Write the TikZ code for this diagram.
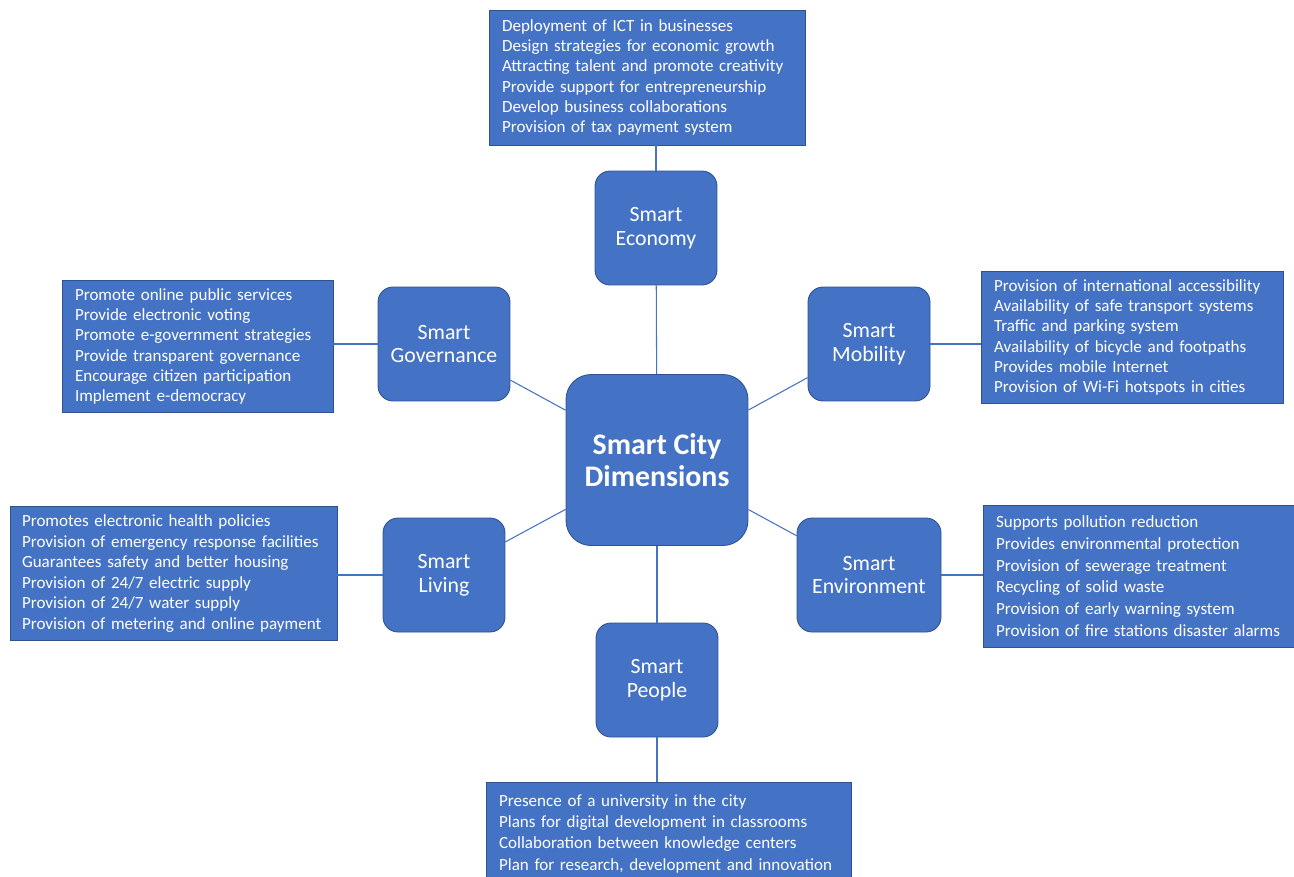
\documentclass[tikz,border=0pt]{standalone}
\usepackage{fontspec}
\setmainfont{Carlito}
\definecolor{cityblue}{HTML}{4472C4}
\definecolor{cityedge}{HTML}{2F528F}

\begin{document}
\begin{tikzpicture}[x=0.02cm, y=-0.02cm,
    dim/.style = {draw=cityedge, fill=cityblue, text=white, line width=0.5pt, rounded corners=0.3cm,
        minimum width=2.44cm, minimum height=2.28cm, align=center, font=\fontsize{12.4}{13.6}\selectfont},
    hub/.style = {dim, rounded corners=0.5cm, minimum width=3.64cm, minimum height=3.42cm,
        font=\fontsize{17}{18.2}\selectfont\bfseries},
    items/.style = {draw=cityedge, fill=cityblue, text=white, line width=0.5pt, align=left,
        inner xsep=0.26cm, inner ysep=0.16cm, font=\fontsize{9.7}{11.5}\selectfont},
    link/.style = {draw=cityblue, line width=0.6pt}]
    \path[use as bounding box] (0,0) rectangle (1294,876);

    \node[hub] (city) at (657,460) {Smart City\\Dimensions};
    \node[dim] (econ) at (656,228) {Smart\\Economy};
    \node[dim, minimum width=2.64cm] (gov) at (444,344) {Smart\\Governance};
    \node[dim] (mob) at (869,344) {Smart\\Mobility};
    \node[dim] (liv) at (444,575) {Smart\\Living};
    \node[dim, minimum width=2.88cm] (env) at (869,575) {Smart\\Environment};
    \node[dim] (peo) at (657,680) {Smart\\People};

    \node[items, text width=5.8cm, minimum height=2.7cm] (econlist) at (647,77.5) {Deployment of ICT in businesses\\Design strategies for economic growth\\Attracting talent and promote creativity\\Provide support for entrepreneurship\\Develop business collaborations\\Provision of tax payment system};
    \node[items, text width=4.9cm, minimum height=2.58cm] (govlist) at (197.5,346.5) {Promote online public services\\Provide electronic voting\\Promote e-government strategies\\Provide transparent governance\\Encourage citizen participation\\Implement e-democracy};
    \node[items, text width=5.52cm, minimum height=2.62cm] (moblist) at (1132,337.5) {Provision of international accessibility\\Availability of safe transport systems\\Traffic and parking system\\Availability of bicycle and footpaths\\Provides mobile Internet\\Provision of Wi-Fi hotspots in cities};
    \node[items, text width=6.06cm, minimum height=2.62cm, inner xsep=0.24cm,
        font=\fontsize{9.7}{11.7}\selectfont] (livlist) at (173.5,573.5) {Promotes electronic health policies\\Provision of emergency response facilities\\Guarantees safety and better housing\\Provision of 24/7 electric supply\\Provision of 24/7 water supply\\Provision of metering and online payment};
    \node[items, text width=5.78cm, minimum height=2.84cm,
        font=\fontsize{9.7}{12.36}\selectfont] (envlist) at (1140.5,576) {Supports pollution reduction\\Provides environmental protection\\Provision of sewerage treatment\\Recycling of solid waste\\Provision of early warning system\\Provision of fire stations disaster alarms};
    \node[items, text width=6.78cm, anchor=north, inner ysep=0.24cm,
        font=\fontsize{9.7}{12.1}\selectfont] (peolist) at (668.5,782) {Presence of a university in the city\\Plans for digital development in classrooms\\Collaboration between knowledge centers\\Plan for research, development and innovation\rule[-0.6cm]{0pt}{0pt}};

    % hub to dimensions
    \draw[link] (city) -- (econ);
    \draw[link] (city) -- (gov);
    \draw[link] (city) -- (mob);
    \draw[link] (city) -- (liv);
    \draw[link] (city) -- (env);
    \draw[link] (city) -- (peo);

    % dimensions to their lists
    \draw[link] (econ.north) -- (econ.north |- econlist.south);
    \draw[link] (gov.west) -- (gov.west -| govlist.east);
    \draw[link] (mob.east) -- (mob.east -| moblist.west);
    \draw[link] (liv.west) -- (liv.west -| livlist.east);
    \draw[link] (env.east) -- (env.east -| envlist.west);
    \draw[link] (peo.south) -- (peo.south |- peolist.north);
\end{tikzpicture}
\end{document}
